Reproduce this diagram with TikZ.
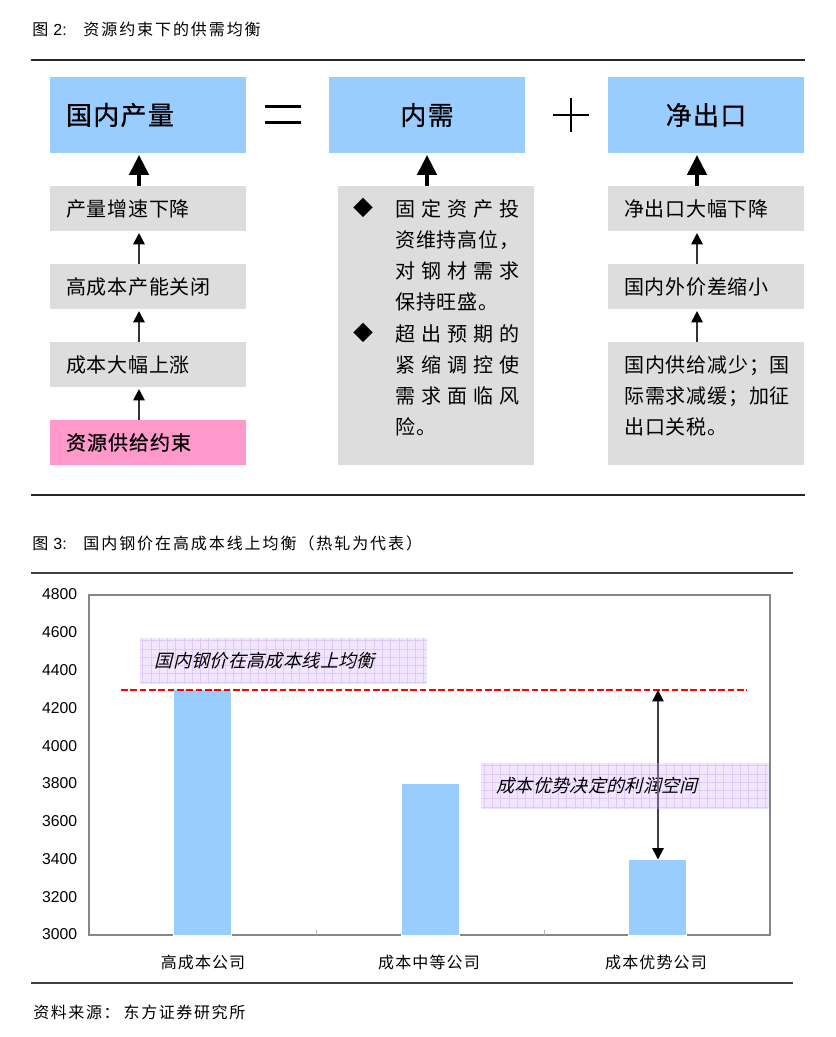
\documentclass[tikz,border=0pt]{standalone}
\usepackage{fontspec}
\usetikzlibrary{arrows.meta}
\setmainfont{Liberation Sans}
\newfontfamily\cjk[LetterSpace=4]{Noto Sans CJK SC}
\newfontfamily\cjkh[LetterSpace=5,FakeBold=0.6]{Noto Sans CJK SC}
\newfontfamily\cjkw[LetterSpace=10]{Noto Sans CJK SC}
\newfontfamily\cjkt[LetterSpace=12]{Noto Sans CJK SC}
\newfontfamily\cjkl[LetterSpace=7]{Noto Sans CJK SC}
\newfontfamily\cjkit[FakeSlant=0.25,LetterSpace=2]{Noto Sans CJK SC}
\definecolor{hd}{HTML}{99CCFF}
\definecolor{gy}{HTML}{DDDDDD}
\definecolor{pk}{HTML}{FF99CC}
\definecolor{ax}{HTML}{868686}
\definecolor{notebg}{HTML}{EBDCFD}
\definecolor{notegrid}{HTML}{DCC8F4}
\definecolor{spanfade}{HTML}{6F6480}
\newcommand{\sprd}[1]{\makebox[93pt][s]{#1}}
\tikzset{
  x=0.75pt,y=-0.75pt,
  headbox/.style={fill=hd,minimum width=147pt,minimum height=57pt,inner sep=0pt,outer sep=0pt,font=\cjkh\fontsize{19.5}{24}\selectfont},
  stepbox/.style={fill=gy,minimum width=147pt,minimum height=33.75pt,inner sep=0pt,outer sep=0pt,text width=123pt,align=left,font=\cjk\fontsize{15}{23.4}\selectfont},
  srcbox/.style={stepbox,fill=pk,font=\cjkh\fontsize{15}{23.4}\selectfont},
  panel/.style={fill=gy,minimum width=147pt,inner sep=0pt,outer sep=0pt},
  bodytxt/.style={inner sep=0pt,align=left,font=\cjk\fontsize{15}{23.4}\selectfont},
  capt/.style={anchor=west,inner sep=0pt,font=\cjkw\fontsize{12}{14}\selectfont},
  rulex/.style={line width=1.5pt,black!85},
  rulethin/.style={line width=0.8pt,black!75},
  bigarrow/.style={line width=2.8pt,-{Triangle[length=15pt,width=14.5pt]},shorten >=1.5pt},
  smallarrow/.style={line width=1.4pt,black!80,-{Triangle[length=8.5pt,width=8.5pt,color=black]},shorten >=1.5pt},
  axlabel/.style={anchor=east,inner sep=0pt,font=\fontsize{11.8}{14}\selectfont},
  catlabel/.style={inner sep=0pt,font=\cjkl\fontsize{12}{14}\selectfont},
  barbox/.style={fill=hd,draw=white,line width=0.4pt,inner sep=0pt,outer sep=0pt,minimum width=43.5pt},
  note/.style={inner sep=0pt,outer sep=0pt,minimum width=215.5pt,minimum height=34.5pt,text width=193pt,align=left,
    fill=notebg,fill opacity=.7,text opacity=1,font=\cjkit\fontsize{13.5}{16}\selectfont,
    path picture={
      \foreach \k in {0,...,34}{
        \draw[notegrid,draw opacity=.9,line width=.4pt] ([xshift=\k*6.2pt+2pt]path picture bounding box.north west) -- ([xshift=\k*6.2pt+2pt]path picture bounding box.south west);
        \foreach \m in {0,...,5}{
          \fill[white,fill opacity=.8] ([xshift=\k*6.2pt+5.1pt,yshift=-\m*6.2pt-5.1pt]path picture bounding box.north west) circle (.35pt);
        }
      }
      \foreach \k in {0,...,5}{
        \draw[notegrid,draw opacity=.9,line width=.4pt] ([yshift=-\k*6.2pt-2pt]path picture bounding box.north west) -- ([yshift=-\k*6.2pt-2pt]path picture bounding box.north east);
      }
    }},
}
\begin{document}
\begin{tikzpicture}
\useasboundingbox (0,0) rectangle (835,1037);
% figure 2
\node[capt] (t2) at (32,29) {图 \fontspec{Liberation Sans}2:\hspace{12.5pt}\cjkt 资源约束下的供需均衡};
\coordinate (r1a) at (31,60); \coordinate (r1b) at (805,60);
\draw[rulex] (r1a) -- (r1b);
\coordinate (r2a) at (31,495); \coordinate (r2b) at (805,495);
\draw[rulex] (r2a) -- (r2b);
% heads
\node[headbox,text width=123pt,align=left] (h1) at (148,115) {国内产量};
\node[headbox] (h2) at (427,115) {内需};
\node[headbox] (h3) at (706,115) {净出口};
% equal and plus
\coordinate (e1a) at (265,106.5); \coordinate (e1b) at (301,106.5);
\coordinate (e2a) at (265,122.5); \coordinate (e2b) at (301,122.5);
\draw[line width=1.6pt] (e1a) -- (e1b);
\draw[line width=1.6pt] (e2a) -- (e2b);
\coordinate (p1a) at (553,115); \coordinate (p1b) at (589,115);
\coordinate (p2a) at (571,98); \coordinate (p2b) at (571,132);
\draw[line width=1.6pt] (p1a) -- (p1b);
\draw[line width=1.6pt] (p2a) -- (p2b);
% left column
\node[stepbox] (a1) at (148,208.5) {产量增速下降};
\node[stepbox] (a2) at (148,286.5) {高成本产能关闭};
\node[stepbox] (a3) at (148,364.5) {成本大幅上涨};
\node[srcbox]  (a4) at (148,442.5) {资源供给约束};
\draw[bigarrow] (a1.north -| 139,0) -- (h1.south -| 139,0);
\draw[smallarrow] (a2.north -| 139,0) -- (a1.south -| 139,0);
\draw[smallarrow] (a3.north -| 139,0) -- (a2.south -| 139,0);
\draw[smallarrow] (a4.north -| 139,0) -- (a3.south -| 139,0);
% middle column
\node[panel,minimum height=209.25pt] (m) at (436,325.5) {};
\draw[bigarrow] (m.north -| 427,0) -- (h2.south -| 427,0);
\node[inner sep=0pt,font=\cjk\fontsize{15}{18}\selectfont] (d1) at (363,208) {◆};
\node[inner sep=0pt,font=\cjk\fontsize{15}{18}\selectfont] (d2) at (363,333) {◆};
\node[bodytxt,anchor=north west] (mt) at (395,199) {\sprd{固 定 资 产 投}\\资维持高位，\\\sprd{对 钢 材 需 求}\\保持旺盛。\\\sprd{超 出 预 期 的}\\\sprd{紧 缩 调 控 使}\\\sprd{需 求 面 临 风}\\险。};
% right column
\node[stepbox] (s1) at (706,208.5) {净出口大幅下降};
\node[stepbox] (s2) at (706,286.5) {国内外价差缩小};
\node[panel,minimum height=92.25pt] (s3) at (706,403.5) {};
\node[bodytxt,anchor=north west] (s3t) at (624,355) {国内供给减少；国\\际需求减缓；加征\\出口关税。};
\draw[bigarrow] (s1.north -| 697,0) -- (h3.south -| 697,0);
\draw[smallarrow] (s2.north -| 697,0) -- (s1.south -| 697,0);
\draw[smallarrow] (s3.north -| 697,0) -- (s2.south -| 697,0);
% figure 3
\node[capt] (t3) at (32,543) {图 \fontspec{Liberation Sans}3:\hspace{12.5pt}\cjkt 国内钢价在高成本线上均衡（热轧为代表）};
\coordinate (r3a) at (31,573); \coordinate (r3b) at (793,573);
\draw[rulethin] (r3a) -- (r3b);
\coordinate (r4a) at (31,983); \coordinate (r4b) at (793,983);
\draw[rulethin] (r4a) -- (r4b);
% plot frame
\draw[ax,line width=1.2pt] (89,595) rectangle (770,935);
\draw[ax!60,line width=.6pt] (316,935) -- (316,930);
\draw[ax!60,line width=.6pt] (544,935) -- (544,930);
\foreach \v/\yy in {4800/594,4600/632,4400/670,4200/708,4000/746,3800/783,3600/821,3400/859,3200/897,3000/934}{
  \node[axlabel] at (77.5,\yy) {\v};
}
% bars
\node[barbox,minimum height=184.5pt] (bar1) at (202.5,812.5) {};
\node[barbox,minimum height=114pt] (bar2) at (430,859.5) {};
\node[barbox,minimum height=57pt] (bar3) at (657,897.5) {};
\node[catlabel] (c1l) at (203,962) {高成本公司};
\node[catlabel] (c2l) at (429,962) {成本中等公司};
\node[catlabel] (c3l) at (656,962) {成本优势公司};
% equilibrium line
\coordinate (la) at (121,690); \coordinate (lb) at (747,690); \coordinate (top) at (658,690);
\draw[red,line width=1.9pt,dash pattern=on 5pt off 2pt] (la) -- (lb);
% span arrow
\draw[line width=1.3pt,black!75,{Triangle[length=8.5pt,width=8.5pt,color=black]}-{Triangle[length=8.5pt,width=8.5pt,color=black]}] (top) -- (bar3.north -| top);
% notes
\node[note] (n1) at (283.5,661) {国内钢价在高成本线上均衡};
\node[note] (n2) at (625,786) {成本优势决定的利润空间};
% span arrow seen through the note
\draw[spanfade,line width=1.1pt] (n2.north -| top) -- (n2.south -| top);
% source
\node[capt] (src) at (33,1012) {资料来源：\hspace{3pt}东方证券研究所};
\end{tikzpicture}
\end{document}
